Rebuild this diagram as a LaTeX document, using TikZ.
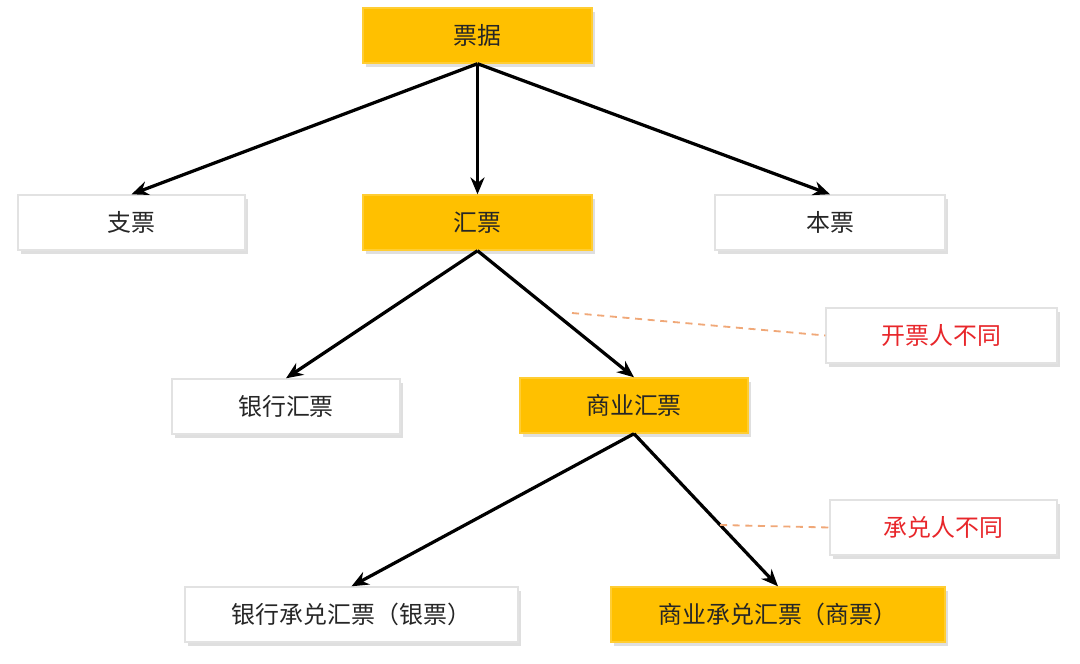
\documentclass[tikz,border=0pt]{standalone}
\usepackage{fontspec}
\setmainfont{Noto Sans CJK SC}
\usepackage{tikz}
\usetikzlibrary{positioning,arrows.meta,shadows}
\usepackage{xcolor}
\definecolor{piaoyellow}{HTML}{FFC000}
\definecolor{boxline}{HTML}{E2E2E2}
\definecolor{notered}{HTML}{E8262A}
\definecolor{dashorange}{HTML}{F0A878}

\tikzset{
  box/.style={draw=boxline, line width=1pt, fill=white, minimum height=55*0.025cm,
    inner sep=0pt, text=black!85, font=\fontsize{17}{20}\selectfont,
    drop shadow={opacity=0.25, shadow xshift=2pt, shadow yshift=-3pt}},
  keybox/.style={box, draw=piaoyellow!80!white, fill=piaoyellow},
  notebox/.style={box, text=notered},
  arrow/.style={-{Stealth[length=12pt,width=10pt]}, line width=2.3pt, black},
  hint/.style={dashorange, dash pattern=on 5pt off 4pt, line width=1.3pt}
}

\begin{document}
\begin{tikzpicture}[x=0.025cm, y=-0.025cm]
\useasboundingbox (0,0) rectangle (1080,664);

\node[keybox, minimum width=229*0.025cm] (pj) at (477.5,35.5) {票据};
\node[box, minimum width=227*0.025cm] (zp) at (131.5,222.5) {支票};
\node[keybox, minimum width=229*0.025cm] (hp) at (477.5,222.5) {汇票};
\node[box, minimum width=230*0.025cm] (bp) at (830,222.5) {本票};
\node[box, minimum width=228*0.025cm] (yhhp) at (286,406.5) {银行汇票};
\node[keybox, minimum width=228*0.025cm] (syhp) at (634,405.5) {商业汇票};
\node[notebox, minimum width=231*0.025cm] (kpr) at (941.5,335.5) {开票人不同};
\node[notebox, minimum width=227*0.025cm] (cdr) at (943.5,527.5) {承兑人不同};
\node[box, minimum width=333*0.025cm] (yp) at (351.5,614.5) {银行承兑汇票（银票）};
\node[keybox, minimum width=334*0.025cm] (sp) at (778,614.5) {商业承兑汇票（商票）};

\path[arrow]
(pj.south) edge (zp.north)
           edge (hp.north)
           edge (bp.north);

\path[arrow]
(hp.south) edge (yhhp.north)
           edge (syhp.north);

\path[arrow]
(syhp.south) edge (yp.north)
             edge (sp.north);

% dashed hints
\coordinate (h1) at (572,313);
\coordinate (h2) at (720,525);
\draw[hint] (h1) -- (kpr.west);
\draw[hint] (h2) -- (cdr.west);

\end{tikzpicture}
\end{document}
